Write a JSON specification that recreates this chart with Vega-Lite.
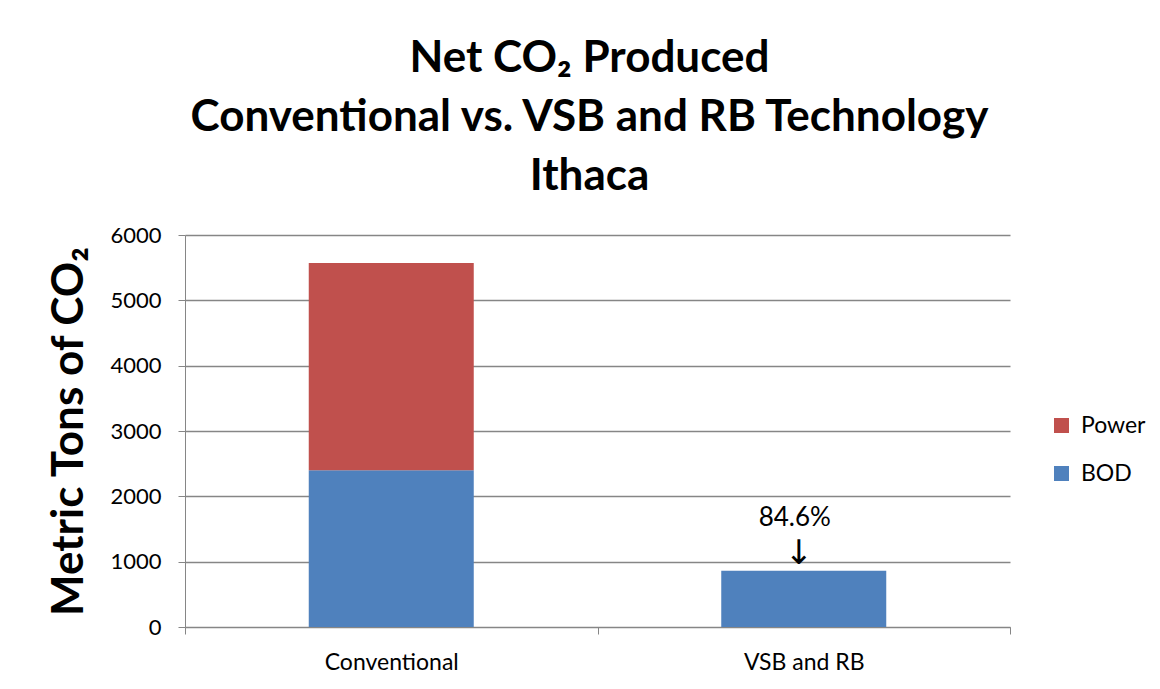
{
  "$schema": "https://vega.github.io/schema/vega-lite/v6.json",
  "width": 825,
  "height": 392,
  "autosize": {"type": "none"},
  "padding": {"left": 185, "top": 235, "right": 150, "bottom": 62},
  "background": "white",
  "title": {
    "text": ["Net CO₂ Produced", "Conventional vs. VSB and RB Technology", "Ithaca"],
    "fontSize": 44,
    "font": "Lato",
    "fontWeight": "bold",
    "lineHeight": 59,
    "anchor": "middle",
    "offset": 25,
    "dx": -8,
    "color": "black"
  },
  "config": {"view": {"stroke": null}, "font": "Lato"},
  "datasets": {
    "bars": [
      {"category": "Conventional", "source": "BOD", "value": 2400},
      {"category": "Conventional", "source": "Power", "value": 3170},
      {"category": "VSB and RB", "source": "BOD", "value": 860}
    ],
    "notes": [
      {"category": "VSB and RB", "value": 860, "label": "84.6%", "arrow": "↓"}
    ]
  },
  "layer": [
    {
      "data": {"name": "bars"},
      "mark": {"type": "bar", "width": {"band": 0.4}},
      "encoding": {
        "x": {
          "field": "category",
          "type": "nominal",
          "scale": {"paddingInner": 0, "paddingOuter": 0},
          "axis": {
            "title": null,
            "labelAngle": 0,
            "tickBand": "extent",
            "domainColor": "#868686",
            "tickColor": "#868686",
            "tickSize": 7,
            "labelFontSize": 23,
            "labelPadding": 17,
            "labelColor": "black"
          }
        },
        "y": {
          "field": "value",
          "type": "quantitative",
          "stack": "zero",
          "scale": {"domain": [0, 6000], "nice": false},
          "axis": {
            "values": [0, 1000, 2000, 3000, 4000, 5000, 6000],
            "format": "d",
            "title": "Metric Tons of CO₂",
            "titleFontSize": 44,
            "titleFontWeight": "bold",
            "titleColor": "black",
            "titlePadding": 18,
            "grid": true,
            "gridColor": "#868686",
            "gridWidth": 1.5,
            "domainColor": "#868686",
            "tickColor": "#868686",
            "tickSize": 7,
            "labelFontSize": 22,
            "labelPadding": 17,
            "labelColor": "black"
          }
        },
        "color": {
          "field": "source",
          "type": "nominal",
          "scale": {"domain": ["Power", "BOD"], "range": ["#C0504D", "#4F81BD"]},
          "legend": {
            "title": null,
            "orient": "none",
            "legendX": 865,
            "legendY": 179,
            "labelFontSize": 23,
            "labelColor": "black",
            "symbolType": "square",
            "symbolSize": 225,
            "symbolStrokeWidth": 0,
            "rowPadding": 24,
            "labelOffset": 8
          }
        },
        "order": {"field": "source", "sort": "ascending"}
      }
    },
    {
      "data": {"name": "notes"},
      "mark": {"type": "text", "fontSize": 26, "baseline": "alphabetic", "dy": -45, "dx": -9, "color": "black"},
      "encoding": {
        "x": {"field": "category", "type": "nominal"},
        "y": {"field": "value", "type": "quantitative"},
        "text": {"field": "label"}
      }
    },
    {
      "data": {"name": "notes"},
      "mark": {"type": "text", "font": "DejaVu Sans", "fontSize": 34, "baseline": "bottom", "dy": 0, "dx": -5, "color": "black"},
      "encoding": {
        "x": {"field": "category", "type": "nominal"},
        "y": {"field": "value", "type": "quantitative"},
        "text": {"field": "arrow"}
      }
    }
  ]
}
